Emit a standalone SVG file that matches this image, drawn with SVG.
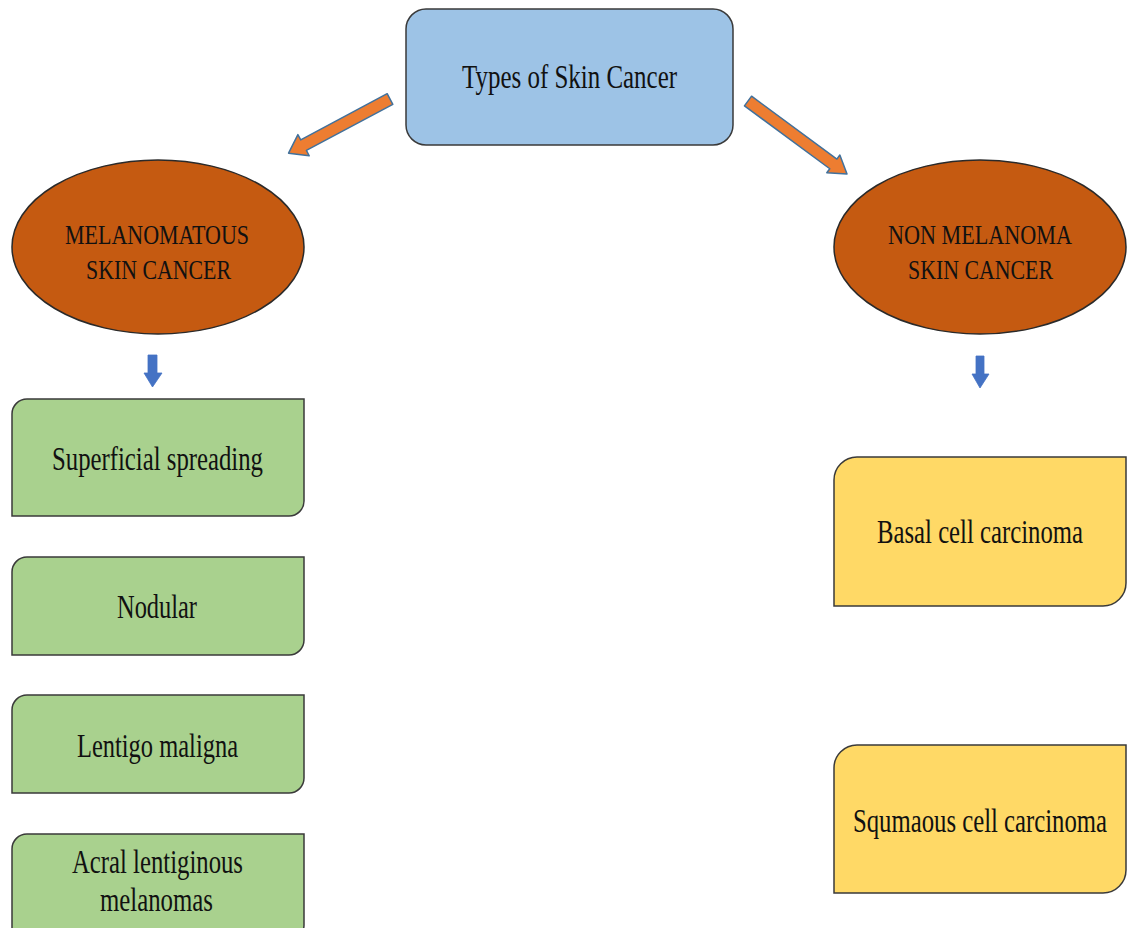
<svg xmlns="http://www.w3.org/2000/svg" width="1127" height="928" viewBox="0 0 1127 928">
<style>
.t{font-family:"Liberation Serif","Times New Roman",serif;fill:#111;text-anchor:middle;}
.b{font-size:33px;}
.s{font-size:27px;}
.q{font-size:24px;}
.e{font-size:28px;}
.green{fill:#A9D18E;stroke:#3a3a3a;stroke-width:1.5;}
.yellow{fill:#FFD966;stroke:#3a3a3a;stroke-width:1.5;}
.oval{fill:#C55A11;stroke:#2a2a2a;stroke-width:1.5;}
.blue{fill:#9DC3E6;stroke:#3a3a3a;stroke-width:1.5;}
.oa{fill:#ED7D31;stroke:#41719C;stroke-width:1.5;stroke-linejoin:round;}
.ba{fill:#4472C4;stroke:#4472C4;stroke-width:0.8;}
</style>
<rect width="1127" height="928" fill="#ffffff"/>
<g id="connectors">
  <polygon class="oa" transform="translate(390,99) rotate(151.9)" points="0,-6 98,-6 98,-12 115,0 98,12 98,6 0,6"/>
  <polygon class="oa" transform="translate(748,101) rotate(36.4)" points="0,-6 106,-6 106,-11 123,0 106,11 106,6 0,6"/>
  <polygon class="ba" points="148,355 157,355 157,373 162,373 152.5,387 144,373 148,373"/>
  <polygon class="ba" points="976,356 984,356 984,374 989,374 980,388 972,374 976,374"/>
</g>
<g id="root">
  <rect class="blue" x="406" y="9" width="327" height="136" rx="20" ry="20"/>
  <text class="t b" x="569.5" y="88" textLength="215" lengthAdjust="spacingAndGlyphs">Types of Skin Cancer</text>
</g>
<g id="melanomatous">
  <ellipse class="oval" cx="158" cy="247" rx="146" ry="87"/>
  <text class="t e" x="157" y="244" textLength="184" lengthAdjust="spacingAndGlyphs">MELANOMATOUS</text>
  <text class="t e" x="158.5" y="279" textLength="145" lengthAdjust="spacingAndGlyphs">SKIN CANCER</text>
</g>
<g id="nonmelanoma">
  <ellipse class="oval" cx="980" cy="247" rx="146" ry="87"/>
  <text class="t e" x="980" y="244" textLength="184" lengthAdjust="spacingAndGlyphs">NON MELANOMA</text>
  <text class="t e" x="980.5" y="279" textLength="145" lengthAdjust="spacingAndGlyphs">SKIN CANCER</text>
</g>
<g id="superficial">
  <path class="green" d="M12,414 A15,15 0 0 1 27,399 H304 V501 A15,15 0 0 1 289,516 H12 Z"/>
  <text class="t b" x="157.5" y="470" textLength="211" lengthAdjust="spacingAndGlyphs">Superficial spreading</text>
</g>
<g id="nodular">
  <path class="green" d="M12,572 A15,15 0 0 1 27,557 H304 V640 A15,15 0 0 1 289,655 H12 Z"/>
  <text class="t b" x="157" y="618" textLength="80" lengthAdjust="spacingAndGlyphs">Nodular</text>
</g>
<g id="lentigo">
  <path class="green" d="M12,710 A15,15 0 0 1 27,695 H304 V778 A15,15 0 0 1 289,793 H12 Z"/>
  <text class="t b" x="157.5" y="757" textLength="161" lengthAdjust="spacingAndGlyphs">Lentigo maligna</text>
</g>
<g id="acral">
  <path class="green" d="M12,849 A15,15 0 0 1 27,834 H304 V925 A15,15 0 0 1 289,940 H12 Z"/>
  <text class="t b" x="157.5" y="873" textLength="171" lengthAdjust="spacingAndGlyphs">Acral lentiginous</text>
  <text class="t b" x="156.5" y="911" textLength="113" lengthAdjust="spacingAndGlyphs">melanomas</text>
</g>
<g id="basal">
  <path class="yellow" d="M834,480 A23,23 0 0 1 857,457 H1126 V583 A23,23 0 0 1 1103,606 H834 Z"/>
  <text class="t s" transform="translate(980,543) scale(1,1.22)" x="0" y="0" textLength="206" lengthAdjust="spacingAndGlyphs">Basal cell carcinoma</text>
</g>
<g id="squamous">
  <path class="yellow" d="M834,768 A23,23 0 0 1 857,745 H1126 V870 A23,23 0 0 1 1103,893 H834 Z"/>
  <text class="t q" transform="translate(980,832) scale(1,1.37)" x="0" y="0" textLength="254" lengthAdjust="spacingAndGlyphs">Squmaous cell carcinoma</text>
</g>
</svg>
